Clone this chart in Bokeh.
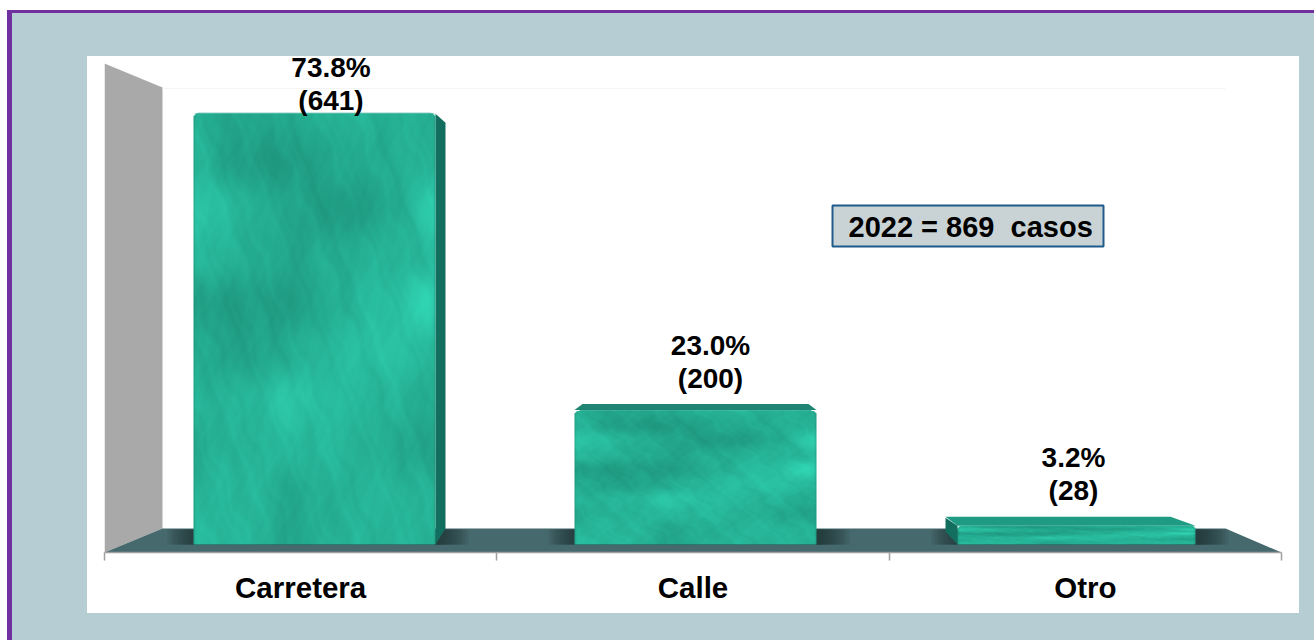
import numpy as np
from bokeh.core.properties import value
from bokeh.embed import file_html
from bokeh.models import BoxAnnotation, ColumnDataSource, FixedTicker, Label, LinearAxis, Range1d
from bokeh.plotting import figure
from bokeh.resources import INLINE

categories = ["Carretera", "Calle", "Otro"]
counts = [641, 200, 28]
percents = ["73.8%", "23.0%", "3.2%"]
count_labels = ["(641)", "(200)", "(28)"]
year_label = "2022 = 869\u00a0 casos"

# layout / style (pixels of the page; the Bokeh page has the canvas at 0,0)
W, H = 1314, 640
FL, FR, FT, FB = 104, 1281, 56, 552      # plot frame on the page
BASE = 544                               # page y of value 0
PX_PER_COUNT = 0.672
PX_PER_CAT = (FR - FL) / 3
bar_left_px = [193, 574, 957]
bar_w_px = [242, 242, 238]
side_dx = [10, 0, -12]
side_base_rise = [16, 0, 13]
side_top_rise = [-9, 0, 8]
cap_l = [5, 8, -12]
cap_r = [-5, -8, -25]
cap_rise = [1, 6, 9]
cap_colors = ["#24a88e", "#1f8471", "#1f9b83"]
label_dx = [16.5, 15, -3]
label_dy = [13.5, 32, 35]
LINE_GAP = 33
TEAL_D = np.array([28, 142, 119.0])
TEAL_L = np.array([48, 212, 178.0])
FONT = "Liberation Sans"
CORNER = 5

bright = np.array([
    [.45, .35, .40, .55, .50, .50],
    [.55, .25, .20, .40, .45, .55],
    [.85, .55, .35, .20, .35, .90],
    [.60, .50, .35, .45, .55, .60],
    [.25, .25, .25, .50, .70, 1.0],
    [.45, .30, .45, .65, .75, .60],
    [.55, .55, .80, .65, .55, .45],
    [.45, .55, .60, .60, .45, .30],
    [.55, .60, .40, .50, .60, .50],
    [.65, .60, .35, .55, .55, .55],
])
# (frequency in u, frequency in v, phase, weight) of the marble mottling
veins = [(29, 13, .4, .8), (-37, 19, 1.9, .8), (53, -31, 3.1, .7), (-71, 43, .8, .6),
         (97, 61, 2.4, .5), (-127, 83, 4.2, .45), (163, -109, 5.1, .35), (211, 149, 1.2, .3)]


def texture(w, h):
    """Marble-like picture fill, stretched to the bar like the original."""
    u = np.linspace(0, 1, w)[None, :]
    v = np.linspace(0, 1, h)[:, None]          # v = 0 is the foot of the bar
    t = 1 - v
    fx = u * (bright.shape[1] - 1)
    fy = t * (bright.shape[0] - 1)
    ix = np.clip(fx.astype(int), 0, bright.shape[1] - 2)
    iy = np.clip(fy.astype(int), 0, bright.shape[0] - 2)
    tx = fx - ix
    ty = fy - iy
    tx = tx * tx * (3 - 2 * tx)
    ty = ty * ty * (3 - 2 * ty)
    ix2, iy2 = np.broadcast_arrays(ix, iy)
    tx2, ty2 = np.broadcast_arrays(tx, ty)
    b = (bright[iy2, ix2] * (1 - tx2) * (1 - ty2) + bright[iy2, ix2 + 1] * tx2 * (1 - ty2)
         + bright[iy2 + 1, ix2] * (1 - tx2) * ty2 + bright[iy2 + 1, ix2 + 1] * tx2 * ty2)
    wu = u + .012 * np.sin(41 * t + 13 * u)
    wv = t + .012 * np.sin(47 * u + 17 * t)
    d = sum(a * np.sin(fu * wu + fv * wv + ph) for fu, fv, ph, a in veins)
    b = np.clip(b + .035 * d, 0, 1)
    # darker rim on the left, right and bottom edges
    rim = np.minimum(np.minimum(u * w, (1 - u) * w), np.minimum(v * h + 4, 99))
    b = b * np.clip(.55 + rim / 4, 0, 1)
    rgb = TEAL_D[None, None, :] + b[:, :, None] * (TEAL_L - TEAL_D)[None, None, :]
    rgba = np.zeros((h, w), dtype=np.uint32)
    view = rgba.view(np.uint8).reshape((h, w, 4))
    view[:, :, :3] = np.clip(rgb, 0, 255).astype(np.uint8)
    view[:, :, 3] = 255
    # rounded upper corners (image row h-1 is the top of the bar)
    r = min(CORNER, h // 2)
    for j in range(r):
        cut = int(round(r - np.sqrt(max(r * r - (r - j) ** 2, 0))))
        view[h - 1 - j, :cut, 3] = 0
        view[h - 1 - j, w - cut:, 3] = 0
    return rgba


def xd(px):
    return (px - FL) / PX_PER_CAT


def yd(py):
    return (BASE - py) / PX_PER_COUNT


p = figure(width=W, height=H, output_backend="svg", toolbar_location=None,
           x_range=Range1d(0, 3), y_range=Range1d(yd(FB), yd(FT)),
           min_border_left=FL, min_border_right=W - FR, min_border_top=FT,
           min_border_bottom=H - FB, x_axis_location=None, y_axis_location=None,
           border_fill_alpha=0, background_fill_alpha=0, outline_line_color=None)
p.grid.visible = False
p.styles = {"background":
            "linear-gradient(#ffffff,#ffffff) 87px 56px / 1212px 557px no-repeat,"
            "linear-gradient(#b6cdd3,#b6cdd3) 12px 13px / 1302px 627px no-repeat,"
            "linear-gradient(#7030a0,#7030a0) 7px 10px / 1307px 630px no-repeat,"
            "#ffffff"}

# back wall and floor
p.patch([xd(104), xd(162), xd(162), xd(104)], [yd(63), yd(87), yd(528), yd(552)],
        fill_color="#a9a9a9", line_color=None)
p.line([xd(162), xd(1225)], [yd(88), yd(88)], line_color="#f4f4f4", line_width=1)
p.patch([xd(104), xd(162), xd(1225), xd(1281)], [yd(552), yd(528), yd(528), yd(552)],
        fill_color="#46696d", line_color=None)

# soft shadows on the floor
for k in range(10):
    grow = 3 * (k + 1)
    for x0, w in zip(bar_left_px, bar_w_px):
        p.quad(left=[xd(x0 - grow + 4)], right=[xd(x0 + w + grow + 3)], bottom=[yd(544)], top=[yd(529)],
               fill_color="#1c2b2e", fill_alpha=.11, line_color=None)

# bars, drawn from the values
for i, c in enumerate(counts):
    x0, x1 = bar_left_px[i], bar_left_px[i] + bar_w_px[i]
    if side_dx[i]:
        xa = x1 if side_dx[i] > 0 else x0
        p.patch([xd(xa), xd(xa), xd(xa + side_dx[i]), xd(xa + side_dx[i])],
                [0, c, c + side_top_rise[i] / PX_PER_COUNT, side_base_rise[i] / PX_PER_COUNT],
                fill_color="#126f5f", line_color=None)
    p.patch([xd(x0), xd(x1), xd(x1 + cap_r[i]), xd(x0 + cap_l[i])],
            [c, c, c + cap_rise[i] / PX_PER_COUNT, c + cap_rise[i] / PX_PER_COUNT],
            fill_color=cap_colors[i], line_color=None)
    p.image_rgba(image=[texture(bar_w_px[i], max(int(round(c * PX_PER_COUNT)), 2))],
                 x=xd(x0), y=0, dw=bar_w_px[i] / PX_PER_CAT, dh=c)

# data labels
cx = [xd(l + w / 2 + d) for l, w, d in zip(bar_left_px, bar_w_px, label_dx)]
src = ColumnDataSource(dict(x=cx, y=counts, pct=percents, cnt=count_labels,
                            o1=[-d for d in label_dy], o2=[-d - LINE_GAP for d in label_dy]))
for col, off in [("cnt", "o1"), ("pct", "o2")]:
    p.text("x", "y", text=col, source=src, y_offset=off, text_align="center", text_baseline="middle",
           text_font=value(FONT), text_font_style="bold", text_font_size="28px", text_color="#000000")

# category axis: ticks at the borders of the categories, labels at their centres
axis = LinearAxis(ticker=FixedTicker(ticks=[i + .5 for i in range(len(categories))],
                                     minor_ticks=list(range(len(categories) + 1))),
                  major_label_overrides={i + .5: c for i, c in enumerate(categories)},
                  axis_line_color="#a0a0a0", axis_line_width=1.5,
                  major_tick_line_color=None, major_tick_out=0, major_tick_in=0,
                  minor_tick_line_color="#a0a0a0", minor_tick_line_width=1.5, minor_tick_out=8, minor_tick_in=0,
                  major_label_standoff=10, major_label_text_font=FONT, major_label_text_font_style="bold",
                  major_label_text_font_size="29.5px", major_label_text_color="#000000")
p.add_layout(axis, "below")

# total annotation
p.add_layout(BoxAnnotation(left=xd(832), right=xd(1103), top=yd(205), bottom=yd(246),
                           fill_color="#c9d3d6", fill_alpha=1, line_color="#1f5a8a", line_alpha=1, line_width=2))
p.add_layout(Label(x=xd(848), y=yd(226), text=year_label,
                   text_font=FONT, text_font_style="bold", text_font_size="29px",
                   text_baseline="middle", text_color="#000000"))

open("out.html", "w").write(file_html(p, INLINE))
